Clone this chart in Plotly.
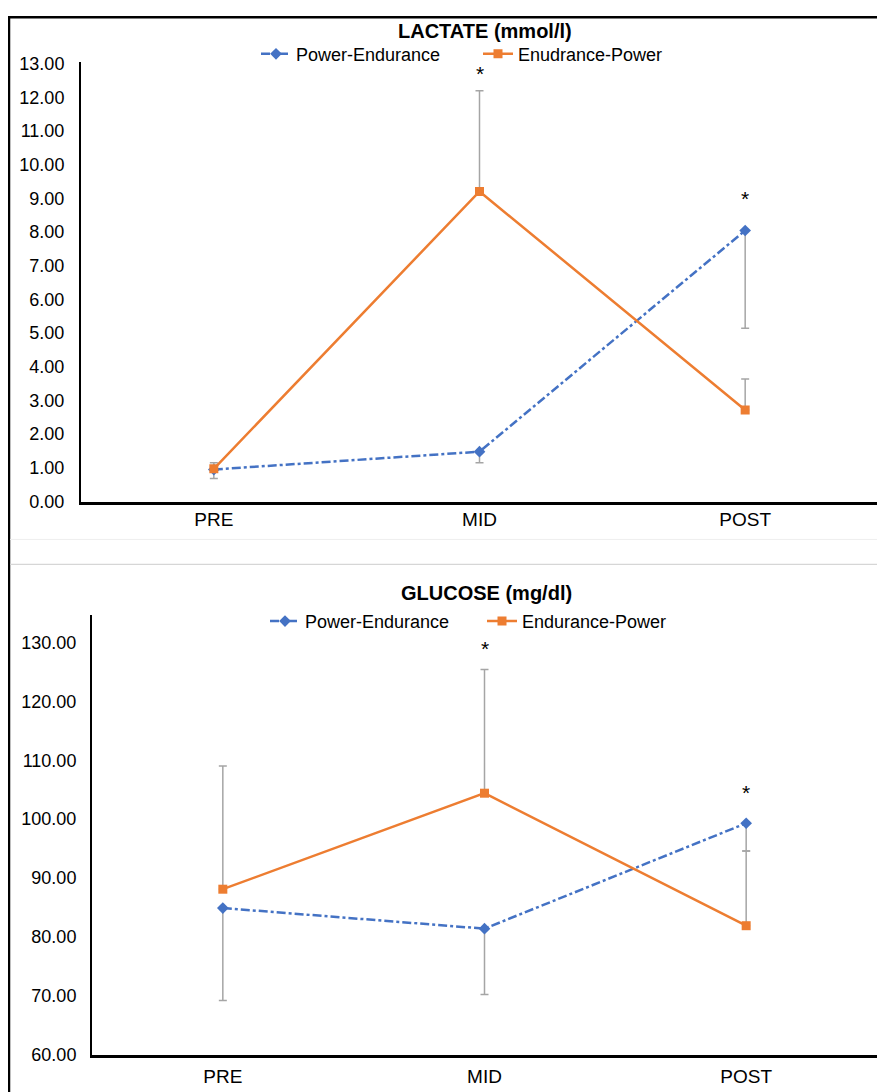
import plotly.graph_objects as go

# Empirical placement of the figure in the photographed page
OFF_X, OFF_Y, SY = 8, 15, 0.985
W, H = 885 - OFF_X, 1094

categories = ["PRE", "MID", "POST"]

# LACTATE (mmol/l)
lac_pe = [0.95, 1.48, 8.05]
lac_pe_err_minus = [0.27, 0.33, 2.90]
lac_ep = [0.97, 9.21, 2.72]
lac_ep_err_plus = [0.18, 2.99, 0.92]
lac_star_x = ["MID", "POST"]
lac_star_y = [12.7, 9.0]
lac_ticks = [i * 1.0 for i in range(14)]

# GLUCOSE (mg/dl)
glu_pe = [84.9, 81.4, 99.3]
glu_pe_err_minus = [15.7, 11.2, 4.7]
glu_ep = [88.1, 104.4, 81.9]
glu_ep_err_plus = [20.9, 21.0, 12.7]
glu_star_x = ["MID", "POST"]
glu_star_y = [129.0, 104.6]
glu_ticks = [60, 70, 80, 90, 100, 110, 120, 130]

BLUE = "#4472C4"
ORANGE = "#ED7D31"
ERR = "#A5A5A5"
FONT = "Liberation Sans"


def px_x(x):
    return (x - OFF_X) / W


def px_y(y):
    return 1 - (y / SY - OFF_Y) / H


fig = go.Figure()

fig.add_trace(go.Scatter(
    x=categories, y=lac_pe, name="Power-Endurance", mode="lines+markers",
    line=dict(color=BLUE, width=2.5, dash="dashdot"),
    marker=dict(symbol="diamond", size=9, color=BLUE),
    error_y=dict(type="data", symmetric=False, array=[0, 0, 0], arrayminus=lac_pe_err_minus,
                 color=ERR, thickness=1.5, width=4),
    xaxis="x", yaxis="y", legend="legend"))
fig.add_trace(go.Scatter(
    x=categories, y=lac_ep, name="Enudrance-Power", mode="lines+markers",
    line=dict(color=ORANGE, width=2.5),
    marker=dict(symbol="square", size=9, color=ORANGE),
    error_y=dict(type="data", symmetric=False, array=lac_ep_err_plus, arrayminus=[0, 0, 0],
                 color=ERR, thickness=1.5, width=4),
    xaxis="x", yaxis="y", legend="legend"))

fig.add_trace(go.Scatter(
    x=categories, y=glu_pe, name="Power-Endurance", mode="lines+markers",
    line=dict(color=BLUE, width=2.5, dash="dashdot"),
    marker=dict(symbol="diamond", size=9, color=BLUE),
    error_y=dict(type="data", symmetric=False, array=[0, 0, 0], arrayminus=glu_pe_err_minus,
                 color=ERR, thickness=1.5, width=4),
    xaxis="x2", yaxis="y2", legend="legend2"))
fig.add_trace(go.Scatter(
    x=categories, y=glu_ep, name="Endurance-Power", mode="lines+markers",
    line=dict(color=ORANGE, width=2.5),
    marker=dict(symbol="square", size=9, color=ORANGE),
    error_y=dict(type="data", symmetric=False, array=glu_ep_err_plus, arrayminus=[0, 0, 0],
                 color=ERR, thickness=1.5, width=4),
    xaxis="x2", yaxis="y2", legend="legend2"))

annotations = []
for cx, cy in zip(lac_star_x, lac_star_y):
    annotations.append(dict(x=cx, y=cy, xref="x", yref="y", text="*", showarrow=False,
                            font=dict(family=FONT, size=21, color="black")))
for cx, cy in zip(glu_star_x, glu_star_y):
    annotations.append(dict(x=cx, y=cy, xref="x2", yref="y2", text="*", showarrow=False,
                            font=dict(family=FONT, size=21, color="black")))
annotations.append(dict(x=px_x(485), y=px_y(30), xref="paper", yref="paper",
                        text="<b>LACTATE (mmol/l)</b>", showarrow=False,
                        xanchor="center", yanchor="middle",
                        font=dict(family=FONT, size=20, color="black")))
annotations.append(dict(x=px_x(487), y=px_y(593), xref="paper", yref="paper",
                        text="<b>GLUCOSE (mg/dl)</b>", showarrow=False,
                        xanchor="center", yanchor="middle",
                        font=dict(family=FONT, size=20, color="black")))

shapes = [
    dict(type="line", xref="paper", yref="paper", x0=px_x(9), x1=px_x(9), y0=1, y1=0,
         line=dict(color="black", width=2.5)),
    dict(type="line", xref="paper", yref="paper", x0=px_x(8), x1=1, y0=1 - 1.2 / H, y1=1 - 1.2 / H,
         line=dict(color="black", width=2.5)),
    dict(type="line", xref="paper", yref="paper", x0=px_x(10), x1=1, y0=px_y(539), y1=px_y(539),
         line=dict(color="#EEEEEE", width=1)),
    dict(type="line", xref="paper", yref="paper", x0=px_x(10), x1=1, y0=px_y(564), y1=px_y(564),
         line=dict(color="#D6D6D6", width=1.2)),
]

axis_common = dict(showgrid=False, zeroline=False, showline=True, linecolor="black",
                   ticks="")
ytick_font = dict(family=FONT, size=18, color="black")
xtick_font = dict(family=FONT, size=19, color="black")

fig.update_layout(
    width=W, height=H,
    margin=dict(l=0, r=0, t=0, b=0),
    paper_bgcolor="white", plot_bgcolor="white",
    font=dict(family=FONT, color="black"),
    xaxis=dict(domain=[px_x(81), px_x(878)], anchor="y", type="category",
               categoryorder="array", categoryarray=categories,
               range=[-0.5, 2.5], linewidth=2.5, ticklabelstandoff=-1,
               tickfont=xtick_font, **axis_common),
    yaxis=dict(domain=[px_y(501), px_y(61)], anchor="x", range=[0, 13.05],
               tickvals=lac_ticks, tickformat=".2f", linewidth=2,
               ticklabelstandoff=11, tickfont=ytick_font, **axis_common),
    xaxis2=dict(domain=[px_x(92), px_x(877)], anchor="y2", type="category",
                categoryorder="array", categoryarray=categories,
                range=[-0.5, 2.5], linewidth=2.5, ticklabelstandoff=3,
                tickfont=xtick_font, **axis_common),
    yaxis2=dict(domain=[px_y(1055), px_y(615)], anchor="x2", range=[60, 134.6],
                tickvals=glu_ticks, tickformat=".2f", linewidth=2,
                ticklabelstandoff=10, tickfont=ytick_font, **axis_common),
    legend=dict(orientation="h", x=px_x(256), y=px_y(53), xanchor="left", yanchor="middle",
                font=dict(family=FONT, size=18, color="black"), bgcolor="rgba(0,0,0,0)",
                itemwidth=30, entrywidth=177),
    legend2=dict(orientation="h", x=px_x(265), y=px_y(621), xanchor="left", yanchor="middle",
                 font=dict(family=FONT, size=18, color="black"), bgcolor="rgba(0,0,0,0)",
                 itemwidth=30, entrywidth=172),
    annotations=annotations,
    shapes=shapes,
    showlegend=True,
)

fig.write_html("out.html")
